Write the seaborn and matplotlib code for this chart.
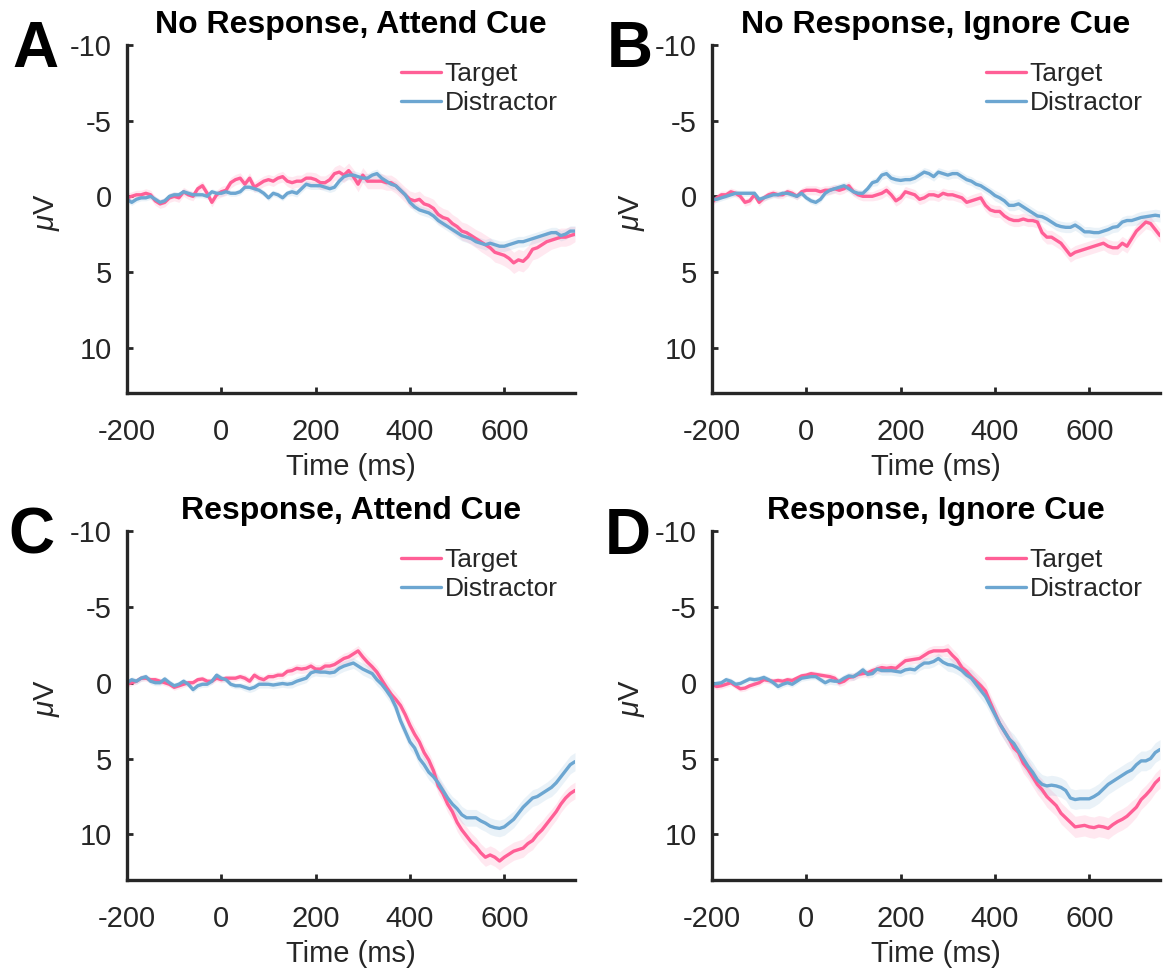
import numpy as np
import pandas as pd
import matplotlib
matplotlib.use('Agg')
import matplotlib.pyplot as plt
import seaborn as sns

# time axis, 10 ms steps from -200 to 750 ms
times = np.arange(-200, 751, 10)

# mean ERP waveforms (uV)
a_target = [0.1, 0.0, -0.1, -0.1, -0.2, -0.1, 0.3, 0.5, 0.4, 0.1,
            0.0, 0.1, -0.3, -0.1, 0.0, -0.5, -0.7, -0.2, 0.4, -0.1,
            -0.3, -0.4, -0.9, -1.1, -1.2, -0.8, -1.2, -0.6, -0.8, -1.0,
            -1.1, -1.0, -1.2, -1.3, -1.0, -0.9, -1.0, -1.0, -1.2, -1.2,
            -1.1, -0.9, -0.9, -1.1, -1.5, -1.6, -1.4, -1.7, -1.3, -0.8,
            -1.4, -1.0, -1.0, -1.0, -1.0, -0.9, -0.9, -0.7, -0.4, -0.1,
            0.2, 0.3, 0.2, 0.5, 0.6, 0.8, 1.2, 1.4, 1.5, 1.8,
            2.0, 2.3, 2.4, 2.6, 2.8, 3.0, 3.2, 3.4, 3.7, 3.8,
            3.9, 4.1, 4.4, 4.2, 4.3, 4.0, 3.5, 3.4, 3.2, 3.0,
            2.9, 2.8, 2.7, 2.7, 2.6, 2.5]
a_distractor = [0.2, 0.4, 0.2, 0.1, 0.1, 0.0, 0.2, 0.4, 0.3, 0.0,
                -0.1, -0.1, -0.3, -0.2, -0.1, -0.1, -0.1, 0.0, -0.3, -0.2,
                -0.2, -0.3, -0.2, -0.2, -0.3, -0.6, -0.6, -0.5, -0.4, -0.2,
                0.1, -0.2, -0.1, 0.1, -0.2, -0.3, -0.2, -0.5, -0.8, -0.7,
                -0.7, -0.7, -0.6, -0.5, -0.6, -1.0, -1.3, -1.4, -1.4, -1.3,
                -1.2, -1.2, -1.4, -1.5, -1.2, -1.0, -0.8, -0.7, -0.4, -0.1,
                0.4, 0.7, 0.9, 1.0, 1.1, 1.3, 1.6, 1.8, 2.0, 2.2,
                2.4, 2.6, 2.7, 2.8, 3.0, 3.1, 3.2, 3.1, 3.2, 3.3,
                3.3, 3.2, 3.1, 3.0, 3.0, 2.9, 2.8, 2.7, 2.6, 2.5,
                2.4, 2.4, 2.6, 2.5, 2.3, 2.3]

b_target = [0.4, 0.1, -0.1, -0.1, -0.3, -0.2, 0.0, 0.4, 0.3, -0.1,
            0.4, 0.1, -0.1, -0.2, -0.1, -0.1, -0.3, -0.2, 0.0, -0.3,
            -0.4, -0.4, -0.4, -0.3, -0.4, -0.4, -0.5, -0.4, -0.5, -0.7,
            -0.3, -0.1, 0.0, 0.0, 0.0, -0.1, -0.2, -0.4, -0.1, 0.3,
            0.1, -0.3, -0.2, -0.1, 0.2, 0.1, -0.1, -0.1, 0.0, -0.2,
            -0.1, -0.1, 0.0, 0.1, 0.4, 0.3, 0.2, 0.1, 0.6, 0.9,
            1.0, 1.0, 1.3, 1.5, 1.6, 1.6, 1.5, 1.6, 1.6, 1.7,
            2.4, 2.7, 2.7, 2.9, 3.1, 3.5, 3.9, 3.7, 3.6, 3.5,
            3.4, 3.3, 3.2, 3.1, 3.3, 3.4, 3.4, 3.1, 3.3, 2.8,
            2.3, 2.0, 1.7, 1.8, 2.2, 2.6]
b_distractor = [0.2, 0.2, 0.1, 0.0, -0.1, -0.2, -0.2, -0.2, -0.2, -0.2,
                0.2, 0.1, 0.0, -0.1, -0.1, -0.2, -0.2, -0.1, 0.0, -0.2,
                0.1, 0.3, 0.4, 0.2, -0.2, -0.4, -0.5, -0.6, -0.7, -0.5,
                -0.3, -0.2, -0.2, -0.5, -0.9, -1.0, -1.4, -1.5, -1.2, -1.1,
                -1.05, -1.1, -1.1, -1.2, -1.4, -1.6, -1.5, -1.3, -1.6, -1.5,
                -1.4, -1.5, -1.5, -1.3, -1.1, -1.0, -0.8, -0.7, -0.5, -0.3,
                -0.05, 0.1, 0.3, 0.6, 0.6, 0.5, 0.7, 0.9, 1.1, 1.3,
                1.35, 1.5, 1.7, 1.9, 2.0, 2.05, 2.05, 1.9, 2.1, 2.35,
                2.35, 2.4, 2.4, 2.3, 2.2, 2.05, 2.0, 1.7, 1.6, 1.6,
                1.5, 1.4, 1.35, 1.3, 1.25, 1.3]

c_target = [0.1, 0.0, -0.1, -0.3, -0.3, -0.2, -0.2, -0.1, 0.0, 0.1,
            0.3, 0.2, 0.1, 0.0, 0.0, -0.2, -0.25, -0.1, -0.1, -0.3,
            -0.2, -0.3, -0.3, -0.3, -0.4, -0.3, -0.1, -0.5, -0.3, -0.2,
            -0.4, -0.4, -0.5, -0.5, -0.75, -0.8, -0.95, -0.9, -0.95, -1.1,
            -0.9, -0.9, -1.1, -1.1, -1.2, -1.4, -1.6, -1.7, -1.9, -2.1,
            -1.7, -1.35, -1.05, -0.7, -0.2, 0.3, 0.75, 1.1, 1.5, 2.1,
            2.8, 3.4, 3.9, 4.6, 5.1, 5.8, 6.8, 7.3, 8.0, 8.5,
            9.2, 9.7, 10.1, 10.5, 10.8, 11.2, 11.5, 11.35, 11.5, 11.75,
            11.5, 11.3, 11.1, 11.0, 10.9, 10.6, 10.4, 10.0, 9.7, 9.3,
            8.9, 8.5, 8.0, 7.6, 7.3, 7.1]
c_distractor = [0.0, -0.2, -0.1, -0.3, -0.4, -0.1, 0.0, 0.0, -0.25, 0.0,
                0.2, 0.1, -0.1, 0.1, 0.45, 0.2, 0.1, 0.1, -0.1, -0.5,
                -0.3, -0.2, 0.1, 0.2, 0.2, 0.3, 0.4, 0.3, 0.1, 0.1,
                0.1, 0.15, 0.1, 0.05, 0.1, 0.05, -0.1, -0.2, -0.3, -0.65,
                -0.75, -0.7, -0.7, -0.65, -0.7, -0.95, -1.1, -1.2, -1.3, -1.1,
                -0.9, -0.75, -0.6, -0.2, 0.1, 0.5, 0.95, 1.6, 2.5, 3.2,
                3.9, 4.3, 5.0, 5.4, 5.9, 6.2, 6.6, 7.1, 7.6, 8.0,
                8.3, 8.7, 8.9, 8.9, 8.9, 9.1, 9.25, 9.45, 9.55, 9.6,
                9.5, 9.25, 9.0, 8.6, 8.2, 7.9, 7.6, 7.5, 7.3, 7.1,
                6.9, 6.6, 6.2, 5.8, 5.4, 5.2]

d_target = [0.1, 0.25, 0.2, 0.1, 0.0, 0.2, 0.4, 0.35, 0.2, 0.1,
            0.0, -0.2, -0.15, -0.1, -0.15, -0.1, -0.2, -0.15, -0.3, -0.45,
            -0.5, -0.6, -0.55, -0.5, -0.45, -0.4, -0.3, 0.0, -0.1, -0.35,
            -0.4, -0.55, -0.6, -0.65, -0.8, -0.9, -1.0, -0.95, -1.0, -0.95,
            -1.2, -1.45, -1.5, -1.55, -1.6, -1.8, -2.0, -2.1, -2.1, -2.1,
            -2.15, -1.8, -1.5, -1.0, -0.75, -0.4, -0.1, 0.2, 0.55, 1.3,
            2.0, 2.7, 3.2, 3.7, 4.3, 4.6, 5.3, 5.7, 6.2, 6.7,
            7.05, 7.5, 7.8, 8.1, 8.6, 8.9, 9.2, 9.5, 9.45, 9.4,
            9.5, 9.55, 9.45, 9.5, 9.6, 9.35, 9.15, 9.0, 8.8, 8.5,
            8.2, 7.7, 7.4, 7.05, 6.6, 6.3]
d_distractor = [0.1, 0.05, 0.0, -0.2, -0.1, 0.1, 0.05, -0.1, -0.25, -0.2,
                -0.25, -0.35, -0.2, 0.0, 0.25, 0.1, 0.0, 0.1, -0.1, -0.3,
                -0.35, -0.4, -0.4, -0.2, 0.0, -0.15, -0.1, -0.1, -0.3, -0.45,
                -0.4, -0.6, -0.85, -0.55, -0.6, -0.9, -0.8, -0.8, -0.8, -0.75,
                -0.7, -0.85, -0.9, -0.85, -1.1, -1.3, -1.3, -1.4, -1.6, -1.35,
                -1.2, -1.15, -1.0, -0.8, -0.5, -0.3, 0.1, 0.5, 0.9, 1.5,
                2.1, 2.7, 3.2, 3.7, 4.0, 4.5, 5.0, 5.5, 5.9, 6.4,
                6.7, 6.8, 6.75, 6.8, 6.9, 7.1, 7.6, 7.7, 7.65, 7.65,
                7.65, 7.5, 7.3, 7.0, 6.7, 6.5, 6.3, 6.1, 5.9, 5.75,
                5.4, 5.15, 5.15, 5.0, 4.6, 4.4]

# standard error half-widths, one value per 50 ms bin
a_target_sem = [0.3, 0.3, 0.3, 0.3, 0.35, 0.35, 0.35, 0.4, 0.45, 0.5,
                0.5, 0.5, 0.55, 0.6, 0.6, 0.65, 0.7, 0.7, 0.6, 0.5]
a_distractor_sem = [0.2, 0.2, 0.2, 0.2, 0.2, 0.2, 0.2, 0.25, 0.25, 0.3,
                    0.3, 0.3, 0.3, 0.3, 0.35, 0.35, 0.35, 0.35, 0.35, 0.35]
b_target_sem = [0.25, 0.25, 0.25, 0.25, 0.3, 0.3, 0.3, 0.35, 0.35, 0.35,
                0.35, 0.4, 0.4, 0.4, 0.45, 0.45, 0.45, 0.45, 0.45, 0.45]
b_distractor_sem = [0.2, 0.2, 0.2, 0.2, 0.2, 0.25, 0.25, 0.3, 0.3, 0.3,
                    0.3, 0.3, 0.35, 0.35, 0.35, 0.35, 0.35, 0.35, 0.4, 0.4]
c_target_sem = [0.2, 0.2, 0.2, 0.2, 0.2, 0.25, 0.25, 0.3, 0.3, 0.35,
                0.4, 0.45, 0.5, 0.55, 0.6, 0.6, 0.6, 0.6, 0.55, 0.55]
c_distractor_sem = [0.2, 0.2, 0.2, 0.2, 0.2, 0.25, 0.25, 0.3, 0.3, 0.35,
                    0.4, 0.45, 0.5, 0.5, 0.55, 0.55, 0.55, 0.55, 0.6, 0.6]
d_target_sem = [0.2, 0.2, 0.2, 0.2, 0.2, 0.25, 0.25, 0.3, 0.3, 0.35,
                0.45, 0.55, 0.6, 0.65, 0.7, 0.7, 0.7, 0.7, 0.65, 0.65]
d_distractor_sem = [0.2, 0.2, 0.2, 0.2, 0.2, 0.25, 0.25, 0.3, 0.3, 0.35,
                    0.45, 0.55, 0.6, 0.65, 0.65, 0.65, 0.65, 0.65, 0.65, 0.65]

titles = ['No Response, Attend Cue', 'No Response, Ignore Cue',
          'Response, Attend Cue', 'Response, Ignore Cue']
letters = ['A', 'B', 'C', 'D']
conditions = ['Target', 'Distractor']
xticks = [-200, 0, 200, 400, 600]
yticks = [-10, -5, 0, 5, 10]

panels = [
    (a_target, a_distractor, a_target_sem, a_distractor_sem),
    (b_target, b_distractor, b_target_sem, b_distractor_sem),
    (c_target, c_distractor, c_target_sem, c_distractor_sem),
    (d_target, d_distractor, d_target_sem, d_distractor_sem),
]

pink = '#FF5F96'
blue = '#6CA6D1'
palette = {'Target': pink, 'Distractor': blue}
dark = '#262626'

sns.set_theme(style='ticks')
plt.rcParams['font.family'] = ['Liberation Sans', 'DejaVu Sans']
plt.rcParams['axes.unicode_minus'] = False
plt.rcParams['mathtext.fontset'] = 'custom'
plt.rcParams['mathtext.it'] = 'Liberation Sans:italic'
plt.rcParams['mathtext.rm'] = 'Liberation Sans'

W, H = 1165, 973
fig = plt.figure(figsize=(W / 100, H / 100), dpi=100)

# axes boxes in pixels: left, top, right, bottom
boxes = [(127, 45, 575, 393), (712, 45, 1160, 393),
         (127, 531, 575, 880), (712, 531, 1160, 880)]
letter_pos = [(35, 50), (630, 50), (31, 537), (628, 537)]


def sem_per_sample(sem_bins):
    # each 50 ms bin covers five 10 ms samples
    return np.repeat(np.array(sem_bins), 5)[:len(times)]


for i, (tgt, dis, tgt_sem, dis_sem) in enumerate(panels):
    l, t, r, b = boxes[i]
    ax = fig.add_axes([l / W, 1 - b / H, (r - l) / W, (b - t) / H])

    df = pd.DataFrame({
        'Time': np.concatenate([times, times]),
        'uV': np.concatenate([tgt, dis]),
        'Condition': ['Target'] * len(times) + ['Distractor'] * len(times),
    })

    for vals, sem, col in [(tgt, tgt_sem, pink), (dis, dis_sem, blue)]:
        vals = np.array(vals)
        s = sem_per_sample(sem)
        ax.fill_between(times, vals - s, vals + s, color=col, alpha=0.14, lw=0)

    sns.lineplot(data=df, x='Time', y='uV', hue='Condition', hue_order=conditions,
                 palette=palette, lw=2.4, errorbar=None, ax=ax)

    ax.set_xlim(-200, 750)
    ax.set_ylim(13, -10)
    ax.set_xticks(xticks)
    ax.set_yticks(yticks)
    ax.tick_params(axis='both', labelsize=21, colors=dark, width=2, length=4,
                   direction='in')
    ax.tick_params(axis='x', pad=18)
    ax.tick_params(axis='y', pad=11)
    sns.despine(ax=ax)
    for side in ['left', 'bottom']:
        ax.spines[side].set_linewidth(2.4)
        ax.spines[side].set_color(dark)

    ax.set_xlabel('Time (ms)', fontsize=21, color=dark)
    ax.set_ylabel(r'$\mu$V', fontsize=21, color=dark)
    ax.xaxis.set_label_coords(0.5, -0.172)
    ax.yaxis.set_label_coords(-0.145, 0.52)

    ax.set_title(titles[i], fontsize=23, fontweight='bold', color='black', pad=9)

    h, lab = ax.get_legend_handles_labels()
    leg = ax.legend(h, lab, loc='upper right', frameon=False, fontsize=19,
                    handlelength=1.5, handletextpad=0.15, labelspacing=0.2,
                    borderaxespad=0.25)
    for line in leg.get_lines():
        line.set_linewidth(2.4)

    fig.text(letter_pos[i][0] / W, 1 - letter_pos[i][1] / H, letters[i],
             fontsize=46, fontweight='bold', ha='center', va='center', color='black')

fig.savefig('out.png', dpi=100)
